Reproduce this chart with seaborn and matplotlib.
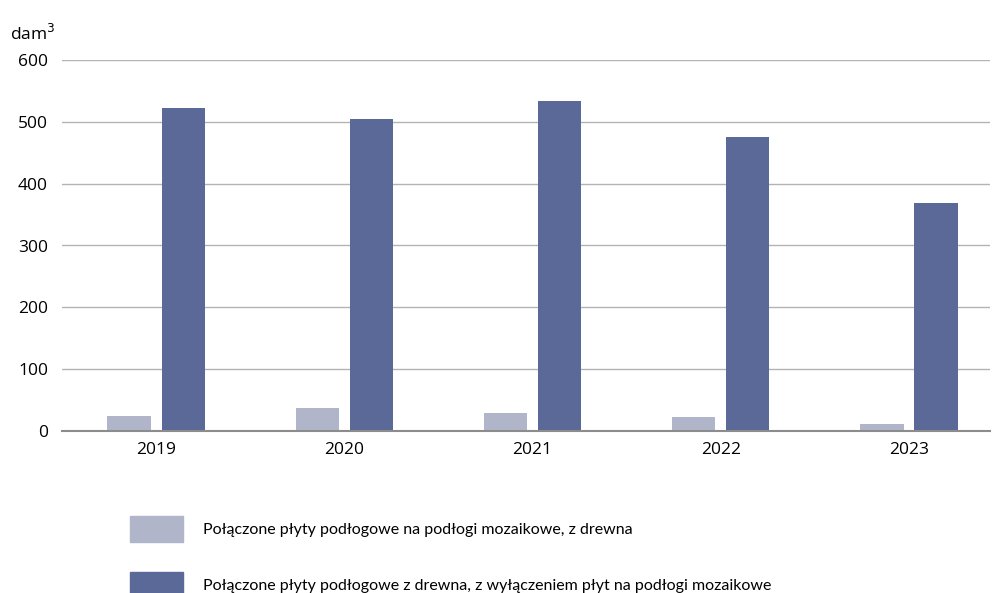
import matplotlib
matplotlib.use("Agg")
import matplotlib.pyplot as plt
import seaborn as sns
import pandas as pd

years = ["2019", "2020", "2021", "2022", "2023"]
mozaikowe = [24, 38, 29, 22, 12]
inne = [523, 505, 534, 476, 369]
series_names = [
    "Połączone płyty podłogowe na podłogi mozaikowe, z drewna",
    "Połączone płyty podłogowe z drewna, z wyłączeniem płyt na podłogi mozaikowe",
]
colors = ["#b0b5c9", "#5a6997"]

df = pd.DataFrame({
    "rok": years * 2,
    "wartosc": mozaikowe + inne,
    "seria": [series_names[0]] * 5 + [series_names[1]] * 5,
})

sns.set_theme(style="white")
plt.rcParams["font.family"] = ["Open Sans", "DejaVu Sans"]
plt.rcParams["text.color"] = "black"

fig = plt.figure(figsize=(9.93, 5.93), dpi=100)
ax = fig.add_axes([62 / 993, 1 - 431 / 593, 928 / 993, 371 / 593])

sns.barplot(data=df, x="rok", y="wartosc", hue="seria", palette=colors,
            width=0.574, gap=0.2, saturation=1, linewidth=0, ax=ax,
            legend=False, zorder=3)

ax.set_ylim(0, 600)
ax.set_xlim(-0.5, 4.43)
ax.set_yticks(range(0, 601, 100))
ax.yaxis.grid(True, color="#b3b3b3", linewidth=1, zorder=0)
ax.set_axisbelow(True)
for s in ["top", "right", "left"]:
    ax.spines[s].set_visible(False)
ax.spines["bottom"].set_color("#8c8c8c")
ax.spines["bottom"].set_linewidth(1.5)
ax.spines["bottom"].set_zorder(4)
ax.tick_params(axis="both", length=0, labelsize=12.5, colors="black", pad=8)
ax.tick_params(axis="y", pad=10)
ax.set_xlabel("")
ax.set_ylabel("")

fig.text(10 / 993, 1 - 40 / 593, "dam$^3$", fontsize=12.5, ha="left", va="baseline")

handles = [plt.Rectangle((0, 0), 1, 1, color=c) for c in colors]
fig.legend(handles, series_names, loc="upper left",
           bbox_to_anchor=(116 / 993, 1 - 502 / 593),
           frameon=False, prop={"family": ["Lato", "DejaVu Sans"], "size": 11.5},
           handlelength=3.3, handleheight=2.05,
           handletextpad=1.25, labelspacing=1.9)

fig.savefig("out.png", dpi=100)
